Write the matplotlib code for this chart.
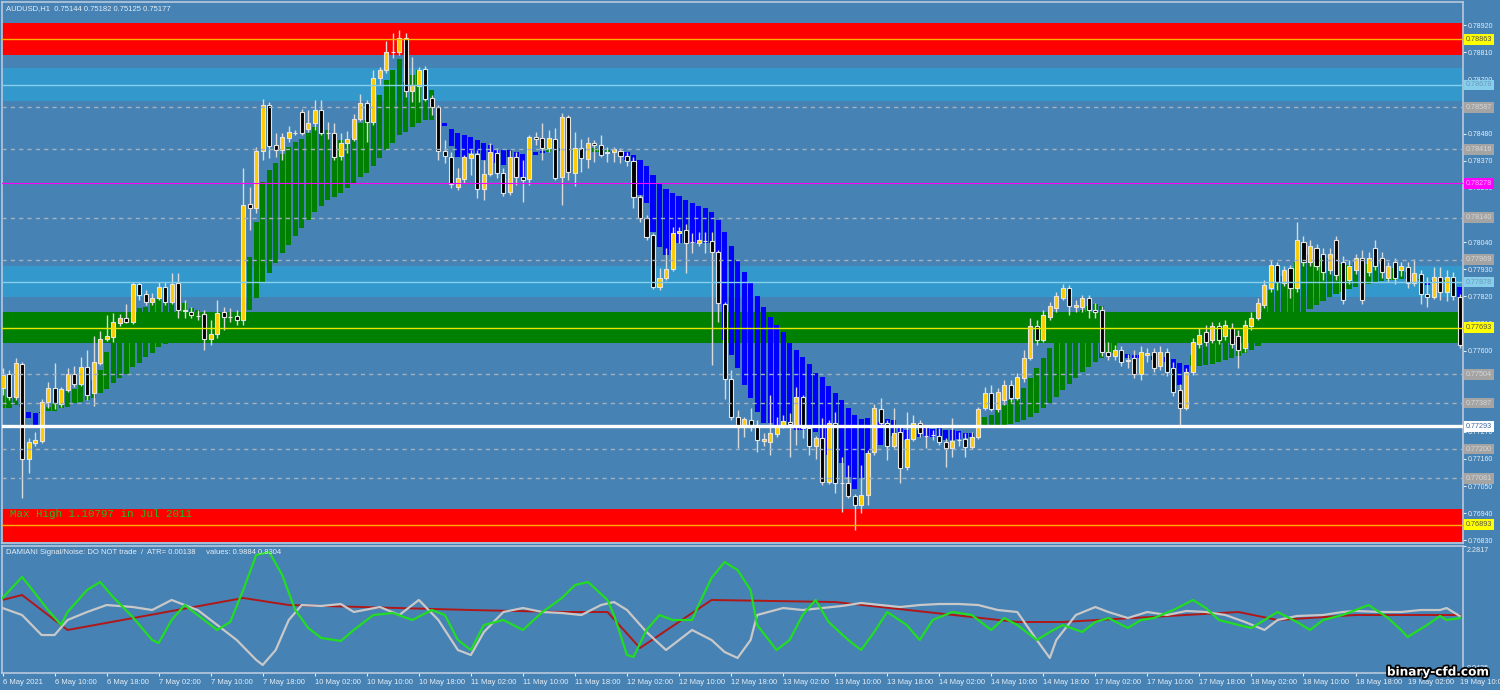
import numpy as np
import matplotlib.pyplot as plt
import matplotlib.patheffects as pe

# ---- price bars (AUDUSD H1), values in points (1e-5) ----
opens = [77448, 77505, 77411, 77545, 77159, 77224, 77233, 77391, 77448, 77383,
         77440, 77505, 77464, 77533, 77427, 77549, 77647, 77655, 77712, 77732,
         77716, 77870, 77829, 77797, 77813, 77858, 77797, 77874, 77760, 77756,
         77740, 77748, 77647, 77667, 77756, 77736, 77740, 77724, 78195, 78179,
         78410, 78597, 78434, 78414, 78463, 78483, 78568, 78499, 78524, 78576,
         78483, 78483, 78390, 78442, 78459, 78540, 78605, 78528, 78706, 78739,
         78812, 78812, 78869, 78653, 78674, 78743, 78625, 78589, 78410, 78386,
         78264, 78296, 78382, 78398, 78256, 78317, 78402, 78321, 78243, 78386,
         78304, 78296, 78467, 78463, 78422, 78459, 78304, 78548, 78321, 78422,
         78378, 78442, 78434, 78402, 78406, 78410, 78390, 78369, 78223, 78138,
         78069, 77858, 77894, 77931, 78077, 78089, 78040, 78036, 78045, 78045,
         78000, 77789, 77484, 77330, 77289, 77318, 77293, 77233, 77228, 77261,
         77293, 77310, 77297, 77411, 77285, 77212, 77245, 77066, 77306, 77062,
         77062, 77009, 76973, 77013, 77188, 77363, 77306, 77212, 77269, 77127,
         77241, 77306, 77253, 77257, 77253, 77228, 77204, 77237, 77241, 77208,
         77249, 77367, 77427, 77363, 77399, 77460, 77407, 77488, 77570, 77699,
         77643, 77736, 77773, 77813, 77854, 77777, 77777, 77813, 77764, 77764,
         77594, 77578, 77602, 77557, 77570, 77505, 77582, 77594, 77537, 77594,
         77529, 77440, 77367, 77513, 77626, 77675, 77643, 77699, 77659, 77691,
         77659, 77610, 77699, 77732, 77785, 77854, 77947, 77874, 77935, 77854,
         78040, 77959, 78016, 77992, 77927, 78049, 77959, 77886, 77927, 77976,
         77919, 78016, 77976, 77894, 77959, 77927, 77939, 77874, 77911, 77829,
         77817, 77898, 77837, 77898, 77817]
highs = [77529, 77521, 77570, 77553, 77245, 77269, 77403, 77472, 77549, 77452,
         77529, 77537, 77574, 77602, 77659, 77679, 77744, 77752, 77748, 77789,
         77878, 77878, 77846, 77833, 77878, 77878, 77915, 77915, 77805, 77777,
         77764, 77764, 77724, 77805, 77777, 77772, 77764, 78341, 78264, 78426,
         78621, 78609, 78483, 78483, 78511, 78495, 78580, 78576, 78617, 78617,
         78528, 78524, 78483, 78491, 78560, 78641, 78617, 78739, 78751, 78857,
         78889, 78901, 78889, 78792, 78751, 78755, 78637, 78597, 78455, 78406,
         78341, 78394, 78414, 78414, 78373, 78442, 78422, 78341, 78414, 78406,
         78373, 78475, 78487, 78524, 78495, 78503, 78564, 78556, 78487, 78459,
         78467, 78455, 78475, 78426, 78426, 78422, 78406, 78386, 78231, 78150,
         78077, 77935, 78016, 78101, 78101, 78114, 78077, 78081, 78081, 78081,
         78008, 77797, 77521, 77358, 77330, 77367, 77318, 77265, 77419, 77330,
         77338, 77346, 77452, 77419, 77297, 77253, 77326, 77318, 77350, 77168,
         77135, 77017, 77135, 77196, 77383, 77407, 77318, 77367, 77297, 77350,
         77338, 77318, 77289, 77277, 77285, 77245, 77326, 77269, 77265, 77269,
         77371, 77452, 77460, 77448, 77480, 77480, 77509, 77602, 77732, 77724,
         77764, 77797, 77837, 77870, 77866, 77805, 77825, 77825, 77793, 77781,
         77635, 77622, 77618, 77586, 77602, 77618, 77610, 77610, 77618, 77610,
         77553, 77464, 77529, 77651, 77691, 77704, 77716, 77716, 77724, 77712,
         77683, 77724, 77756, 77813, 77886, 77967, 77959, 77943, 77947, 78122,
         78065, 78049, 78032, 78016, 78016, 78065, 77984, 77967, 77992, 78008,
         78000, 78049, 78000, 77959, 77976, 77959, 77959, 77971, 77927, 77898,
         77939, 77939, 77927, 77919, 77829]
lows = [77419, 77399, 77399, 77001, 77103, 77212, 77224, 77367, 77363, 77371,
        77432, 77452, 77456, 77399, 77375, 77541, 77639, 77635, 77700, 77712,
        77708, 77805, 77785, 77785, 77805, 77785, 77789, 77732, 77732, 77732,
        77724, 77602, 77622, 77651, 77683, 77716, 77704, 77704, 78089, 78158,
        78373, 78382, 78386, 78373, 78447, 78475, 78475, 78487, 78495, 78475,
        78459, 78373, 78373, 78402, 78451, 78532, 78447, 78516, 78678, 78727,
        78788, 78800, 78629, 78609, 78609, 78613, 78556, 78373, 78361, 78260,
        78252, 78280, 78313, 78219, 78211, 78308, 78300, 78227, 78231, 78272,
        78203, 78272, 78434, 78373, 78406, 78292, 78191, 78292, 78268, 78325,
        78341, 78365, 78386, 78365, 78365, 78361, 78349, 78179, 78122, 78049,
        77850, 77846, 77886, 77923, 78036, 77915, 77996, 78024, 77996, 77541,
        77716, 77403, 77318, 77204, 77249, 77273, 77188, 77212, 77176, 77249,
        77285, 77168, 77216, 77245, 77176, 77159, 77054, 77058, 77021, 76944,
        77001, 76871, 76940, 76973, 77176, 77297, 77155, 77204, 77062, 77115,
        77233, 77249, 77204, 77237, 77216, 77127, 77168, 77212, 77168, 77200,
        77241, 77359, 77354, 77350, 77379, 77391, 77399, 77472, 77562, 77622,
        77635, 77724, 77756, 77805, 77744, 77756, 77756, 77732, 77732, 77578,
        77562, 77562, 77537, 77529, 77488, 77480, 77553, 77513, 77521, 77497,
        77415, 77297, 77359, 77500, 77610, 77618, 77631, 77626, 77643, 77610,
        77529, 77594, 77683, 77724, 77773, 77837, 77846, 77862, 77813, 77837,
        77943, 77943, 77927, 77886, 77911, 77886, 77789, 77870, 77911, 77789,
        77903, 77927, 77894, 77878, 77870, 77903, 77854, 77862, 77789, 77777,
        77809, 77805, 77801, 77805, 77610]
closes = [77500, 77411, 77549, 77159, 77228, 77237, 77391, 77448, 77387, 77444,
          77505, 77464, 77533, 77419, 77553, 77647, 77659, 77716, 77732, 77716,
          77870, 77825, 77797, 77813, 77858, 77797, 77870, 77764, 77764, 77744,
          77740, 77647, 77667, 77752, 77736, 77736, 77724, 78191, 78179, 78410,
          78597, 78430, 78414, 78467, 78487, 78483, 78483, 78524, 78576, 78483,
          78483, 78386, 78442, 78459, 78540, 78605, 78528, 78706, 78739, 78812,
          78812, 78869, 78653, 78678, 78739, 78621, 78589, 78410, 78390, 78276,
          78300, 78386, 78398, 78256, 78317, 78406, 78321, 78239, 78386, 78304,
          78292, 78467, 78459, 78422, 78463, 78300, 78548, 78325, 78422, 78382,
          78442, 78434, 78394, 78406, 78418, 78390, 78369, 78223, 78138, 78061,
          77858, 77894, 77931, 78077, 78085, 78036, 78040, 78049, 78045, 78000,
          77793, 77484, 77330, 77289, 77322, 77297, 77237, 77241, 77265, 77293,
          77314, 77302, 77411, 77285, 77212, 77245, 77066, 77306, 77062, 77062,
          77009, 76973, 77013, 77184, 77367, 77306, 77212, 77265, 77123, 77241,
          77306, 77265, 77253, 77257, 77228, 77204, 77233, 77237, 77208, 77249,
          77363, 77427, 77363, 77431, 77460, 77407, 77492, 77570, 77699, 77643,
          77744, 77781, 77821, 77854, 77781, 77785, 77813, 77764, 77756, 77594,
          77578, 77602, 77553, 77561, 77505, 77594, 77590, 77529, 77594, 77513,
          77431, 77367, 77513, 77635, 77663, 77635, 77699, 77643, 77704, 77626,
          77602, 77704, 77732, 77793, 77866, 77947, 77878, 77927, 77854, 78049,
          77959, 78024, 77943, 77919, 77992, 77907, 77805, 77943, 77976, 77805,
          77976, 77943, 77919, 77943, 77894, 77943, 77874, 77915, 77829, 77817,
          77898, 77837, 77898, 77821, 77622]

# ---- trend histogram (fast / slow line), points ----
trend_fast = [77448, 77411, 77411, 77387, 77326, 77297, 77346, 77371, 77387, 77387,
              77436, 77444, 77460, 77464, 77480, 77521, 77594, 77630, 77630, 77630,
              77683, 77773, 77777, 77805, 77809, 77793, 77793, 77793, 77793, 77773,
              77764, 77744, 77732, 77744, 77752, 77752, 77748, 77846, 77980, 78122,
              78284, 78333, 78361, 78398, 78426, 78446, 78459, 78483, 78507, 78507,
              78495, 78455, 78455, 78442, 78463, 78524, 78536, 78576, 78637, 78698,
              78739, 78783, 78690, 78719, 78739, 78666, 78658, 78528, 78511, 78430,
              78386, 78386, 78402, 78402, 78373, 78373, 78361, 78353, 78386, 78382,
              78304, 78382, 78394, 78402, 78422, 78414, 78422, 78418, 78414, 78414,
              78418, 78422, 78414, 78414, 78410, 78398, 78373, 78268, 78231, 78199,
              78081, 78020, 77988, 78008, 78036, 78036, 78036, 78036, 78036, 78036,
              77846, 77643, 77582, 77529, 77460, 77407, 77350, 77306, 77306, 77289,
              77289, 77289, 77277, 77277, 77257, 77269, 77216, 77176, 77155, 77143,
              77086, 77038, 77082, 77184, 77237, 77216, 77269, 77253, 77245, 77237,
              77245, 77249, 77249, 77249, 77237, 77237, 77237, 77241, 77245, 77249,
              77277, 77330, 77338, 77358, 77379, 77399, 77419, 77448, 77488, 77529,
              77570, 77610, 77651, 77683, 77716, 77740, 77764, 77781, 77789, 77781,
              77724, 77643, 77602, 77570, 77553, 77570, 77578, 77561, 77574, 77553,
              77513, 77460, 77488, 77582, 77622, 77651, 77671, 77683, 77691, 77683,
              77675, 77691, 77716, 77752, 77797, 77846, 77878, 77902, 77919, 77959,
              77976, 77988, 77988, 77976, 77976, 77976, 77951, 77947, 77959, 77935,
              77951, 77967, 77951, 77939, 77935, 77935, 77919, 77911, 77890, 77866,
              77886, 77882, 77886, 77878, 77817]
trend_slow = [77367, 77367, 77379, 77371, 77350, 77346, 77350, 77354, 77354, 77367,
              77371, 77387, 77391, 77399, 77407, 77427, 77444, 77468, 77488, 77505,
              77533, 77549, 77574, 77590, 77614, 77626, 77643, 77655, 77671, 77683,
              77695, 77699, 77704, 77716, 77724, 77732, 77732, 77732, 77764, 77813,
              77874, 77915, 77955, 77996, 78028, 78065, 78097, 78130, 78162, 78187,
              78211, 78223, 78239, 78260, 78280, 78304, 78321, 78349, 78382, 78414,
              78442, 78475, 78487, 78507, 78524, 78536, 78536, 78532, 78524, 78499,
              78483, 78475, 78467, 78455, 78442, 78434, 78414, 78414, 78414, 78406,
              78398, 78398, 78406, 78410, 78406, 78406, 78410, 78410, 78410, 78410,
              78410, 78406, 78406, 78402, 78402, 78402, 78406, 78394, 78373, 78349,
              78313, 78280, 78256, 78239, 78227, 78211, 78199, 78187, 78179, 78162,
              78130, 78081, 78024, 77967, 77919, 77874, 77821, 77777, 77736, 77704,
              77675, 77630, 77602, 77574, 77545, 77509, 77492, 77456, 77427, 77399,
              77367, 77338, 77322, 77326, 77318, 77310, 77322, 77318, 77297, 77277,
              77277, 77277, 77285, 77281, 77285, 77277, 77277, 77273, 77265, 77265,
              77265, 77289, 77289, 77289, 77297, 77302, 77310, 77318, 77330, 77346,
              77367, 77387, 77411, 77440, 77464, 77488, 77513, 77533, 77553, 77570,
              77582, 77590, 77590, 77586, 77582, 77582, 77582, 77578, 77578, 77574,
              77565, 77549, 77541, 77537, 77537, 77541, 77545, 77553, 77561, 77570,
              77578, 77590, 77602, 77618, 77635, 77655, 77671, 77691, 77708, 77728,
              77748, 77768, 77785, 77801, 77817, 77829, 77837, 77850, 77858, 77862,
              77870, 77878, 77882, 77886, 77886, 77890, 77890, 77890, 77886, 77878,
              77878, 77878, 77878, 77874, 77858]

# ---- zones and levels ----
zone_low = [0.78800, 0.78614, 0.77816, 0.77630, 0.76824]
zone_high = [0.78931, 0.78746, 0.77943, 0.77758, 0.76955]
zone_mid = [0.78863, 0.78678, 0.77878, 0.77693, 0.76893]
dashed_levels = [0.78587, 0.78416, 0.78140, 0.77969, 0.77504, 0.77387, 0.77200, 0.77081]
magenta_level = 0.78278
white_level = 0.77293

date_labels = ['6 May 2021', '6 May 10:00', '6 May 18:00', '7 May 02:00', '7 May 10:00',
               '7 May 18:00', '10 May 02:00', '10 May 10:00', '10 May 18:00', '11 May 02:00',
               '11 May 10:00', '11 May 18:00', '12 May 02:00', '12 May 10:00', '12 May 18:00',
               '13 May 02:00', '13 May 10:00', '13 May 18:00', '14 May 02:00', '14 May 10:00',
               '14 May 18:00', '17 May 02:00', '17 May 10:00', '17 May 18:00', '18 May 02:00',
               '18 May 10:00', '18 May 18:00', '19 May 02:00', '19 May 10:00']

# ---- Damiani signal/noise subwindow ----
green_bar = [0, 3, 4, 7, 9, 10, 13, 15, 17, 20, 23, 24, 26, 28, 30, 33, 35, 37, 39, 41,
             43, 45, 47, 49, 52, 54, 57, 60, 63, 66, 68, 70, 72, 74, 77, 80, 83, 86, 88, 90,
             93, 94, 96, 97, 99, 101, 103, 106, 107, 109, 111, 113, 115, 116, 119, 121, 123, 125, 127, 130,
             132, 134, 136, 139, 141, 143, 146, 149, 152, 154, 156, 159, 161, 163, 166, 168, 170, 173, 175, 177,
             180, 183, 185, 187, 190, 192, 194, 196, 199, 201, 203, 206, 208, 210, 213, 215, 216, 219, 221, 222,
             224]
green_val = [1.365, 1.735, 1.594, 1.153, 0.889, 1.118, 1.506, 1.647, 1.382, 1.030,
             0.624, 0.571, 0.977, 1.241, 1.065, 0.801, 0.942, 1.506, 2.123, 2.176,
             1.770, 1.153, 0.836, 0.660, 0.607, 0.801, 1.065, 1.100, 0.977, 1.153,
             1.065, 0.624, 0.448, 0.889, 0.977, 0.801, 1.118, 1.365, 1.594, 1.647,
             1.330, 1.065, 0.360, 0.325, 0.801, 1.065, 0.977, 0.977, 1.241, 1.717,
             2.000, 1.858, 1.506, 0.889, 0.448, 0.624, 1.065, 1.330, 0.942, 0.624,
             0.448, 0.765, 1.118, 0.889, 0.624, 0.977, 1.118, 1.065, 0.801, 1.012,
             0.889, 0.624, 0.765, 0.889, 0.765, 0.942, 1.012, 0.836, 0.977, 1.012,
             1.153, 1.330, 1.188, 0.977, 0.889, 0.836, 0.977, 1.118, 0.942, 0.801,
             0.977, 1.065, 1.153, 1.241, 1.012, 0.801, 0.677, 0.889, 1.048, 0.977,
             1.012]
silver_bar = [0, 3, 6, 8, 10, 13, 16, 20, 23, 26, 28, 30, 33, 36, 39, 40, 42, 44, 46, 49,
              52, 54, 58, 61, 64, 67, 70, 72, 74, 77, 80, 83, 86, 89, 92, 94, 96, 99, 102, 104,
              106, 109, 111, 113, 115, 116, 120, 123, 126, 129, 132, 135, 138, 141, 144, 147, 150, 153, 156, 159,
              161, 162, 165, 168, 170, 173, 176, 179, 182, 185, 188, 191, 194, 196, 199, 203, 206, 208, 212, 215,
              218, 221, 222, 224]
silver_val = [1.188, 1.065, 0.712, 0.712, 0.977, 1.118, 1.241, 1.206, 1.153, 1.330,
              1.241, 1.153, 0.889, 0.624, 0.272, 0.184, 0.448, 0.977, 1.241, 1.224,
              1.259, 1.118, 1.206, 1.065, 1.330, 0.977, 0.448, 0.360, 0.765, 1.118,
              1.188, 1.118, 1.100, 1.065, 1.241, 1.294, 1.153, 0.765, 0.448, 0.624,
              0.801, 0.624, 0.413, 0.307, 0.624, 1.065, 1.188, 1.153, 1.188, 1.224,
              1.277, 1.241, 1.206, 1.241, 1.259, 1.259, 1.241, 1.153, 1.118, 0.624,
              0.307, 0.624, 1.065, 1.206, 1.118, 1.012, 1.118, 1.065, 1.136, 1.118,
              1.065, 0.942, 0.801, 0.977, 1.048, 1.065, 1.118, 1.136, 1.118, 1.118,
              1.153, 1.153, 1.188, 1.048]
red_bar = [0, 3, 10, 37, 44, 72, 86, 93, 98, 109, 128, 156, 163, 190, 196, 208, 224]
red_val = [1.330, 1.418, 0.801, 1.365, 1.241, 1.153, 1.118, 1.118, 0.483, 1.330,
           1.294, 0.942, 0.942, 1.118, 0.977, 1.065, 1.065]
osc_min, osc_max = 0.0425, 2.2817

W, H = 1500, 690
bg = '#4682B4'
frame = '#B8C8DC'
txt = '#E8EEF4'

plt.rcParams['font.family'] = ['Liberation Sans', 'DejaVu Sans']


def fx(px):
    return px / W


def fy(py):
    return 1 - py / H


o = np.array(opens) / 1e5
h = np.array(highs) / 1e5
l = np.array(lows) / 1e5
c = np.array(closes) / 1e5
fast = np.array(trend_fast) / 1e5
slow = np.array(trend_slow) / 1e5
x = np.arange(len(o))

fig = plt.figure(figsize=(15, 6.9), dpi=100, facecolor=bg)
ax = fig.add_axes([fx(2), fy(543), fx(1463) - fx(2), fy(2) - fy(543)])
ax2 = fig.add_axes([fx(2), fy(673), fx(1463) - fx(2), fy(546) - fy(673)])

for a in (ax, ax2):
    a.set_facecolor(bg)
    a.set_xlim(-0.08, 224.52)
    for s in a.spines.values():
        s.set_color(frame)
        s.set_linewidth(1.2)
    a.yaxis.tick_right()

ax.set_ylim(0.76819, 0.790146)

# zones
zone_fill = ['#FF0000', '#3399CC', '#3399CC', '#008000', '#FF0000']
zone_line = ['#FFB000', '#87CEEB', '#87CEEB', '#E8E800', '#FFB000']
zone_tag_fc = ['#FFFF00', '#87CEEB', '#87CEEB', '#FFFF00', '#FFFF00']
zone_tag_tc = ['#505050', '#6A9AC0', '#6A9AC0', '#505050', '#505050']
for lo, hi, mid, fc, lc in zip(zone_low, zone_high, zone_mid, zone_fill, zone_line):
    ax.axhspan(lo, hi, color=fc, lw=0, zorder=0.5)
    ax.axhline(mid, color=lc, lw=1, zorder=5)

# trend histogram
up_trend = fast >= slow
ax.bar(x, np.abs(fast - slow), bottom=np.minimum(fast, slow), width=0.78,
       color=np.where(up_trend, '#008000', '#0000FF'), lw=0, zorder=2)

# candles
bull = c >= o
ax.vlines(x, l, h, color='#DADADA', lw=1, zorder=3)
ax.bar(x, np.abs(c - o), bottom=np.minimum(o, c), width=0.62,
       color=np.where(bull, '#FFCC00', '#000000'), edgecolor='#E4E4E4',
       linewidth=0.8, zorder=4)

# level lines
for lv in dashed_levels:
    ax.axhline(lv, color='#A4B0BE', lw=1, ls=(0, (3, 3)), zorder=5)
ax.axhline(magenta_level, color='#FF00FF', lw=0.8, zorder=5)
ax.axhline(white_level, color='white', lw=2.4, zorder=5)

# price scale
price_ticks = np.round(np.arange(0.76830, 0.78921, 0.0011), 5)
ax.set_yticks(price_ticks)
ax.set_yticklabels([f'{t:.5f}' for t in price_ticks])
ax.tick_params(axis='y', colors=txt, labelsize=5, length=2, width=0.8, pad=1.2)
ax.tick_params(axis='x', bottom=False, labelbottom=False)


def tag(y, text, fc, tc):
    ax.annotate(text, xy=(1, y), xycoords=('axes fraction', 'data'),
                xytext=(2.2, 0), textcoords='offset points', ha='left', va='center',
                fontsize=5.2, color=tc, annotation_clip=False, zorder=8,
                bbox=dict(boxstyle='square,pad=0.25', fc=fc, ec='none'))


for mid, fc, tc in zip(zone_mid, zone_tag_fc, zone_tag_tc):
    tag(mid, f'{mid:.5f}', fc, tc)
for lv in dashed_levels:
    tag(lv, f'{lv:.5f}', '#A4A4A4', '#D6D6D6')
tag(magenta_level, f'{magenta_level:.5f}', '#FF00FF', '#FFB4FF')
tag(white_level, f'{white_level:.5f}', '#FFFFFF', '#3C64A0')

# oscillator subwindow
ax2.set_ylim(osc_min, osc_max)
ax2.plot(red_bar, red_val, color='#B01818', lw=1.4, zorder=2)
ax2.plot(silver_bar, silver_val, color='#C8C8C8', lw=1.6, zorder=3)
ax2.plot(green_bar, green_val, color='#22DD22', lw=1.6, zorder=4)
ax2.set_yticks([osc_min, osc_max])
ax2.set_yticklabels([])
ax2.tick_params(axis='y', colors=txt, length=2, width=0.8)
ax2.annotate(f'{osc_max:.4f}', xy=(1, 1), xycoords='axes fraction', xytext=(3, -1),
             textcoords='offset points', ha='left', va='top', fontsize=5.2,
             color=txt, annotation_clip=False)
ax2.annotate(f'{osc_min:.4f}', xy=(1, 0), xycoords='axes fraction', xytext=(3, 1),
             textcoords='offset points', ha='left', va='bottom', fontsize=5.2,
             color=txt, annotation_clip=False)

ax2.set_xticks(np.arange(0, 225, 8))
ax2.set_xticklabels(date_labels, ha='left')
ax2.tick_params(axis='x', colors=txt, labelsize=5.5, length=2.5, width=0.8, pad=1.5)

# texts
fig.text(fx(6), fy(8.5), 'AUDUSD,H1  0.75144 0.75182 0.75125 0.75177', ha='left',
         va='center', fontsize=5.5, color=txt)
fig.text(fx(10), fy(514), 'Max High 1.10797 in Jul 2011', ha='left', va='center',
         fontsize=7.8, color='#22BB22', family=['Liberation Mono', 'DejaVu Sans Mono'])
fig.text(fx(6), fy(553), 'DAMIANI Signal/Noise: DO NOT trade  /  ATR= 0.00138'
         '     values: 0.9884 0.8304', ha='left', va='center', fontsize=5.5, color=txt)
fig.text(fx(1438), fy(672), 'binary-cfd.com', ha='center', va='center', fontsize=8.7,
         weight='bold', color='white', family=['DejaVu Sans'],
         path_effects=[pe.withStroke(linewidth=2.5, foreground='black')])

fig.savefig('out.png', dpi=100, facecolor=bg)
